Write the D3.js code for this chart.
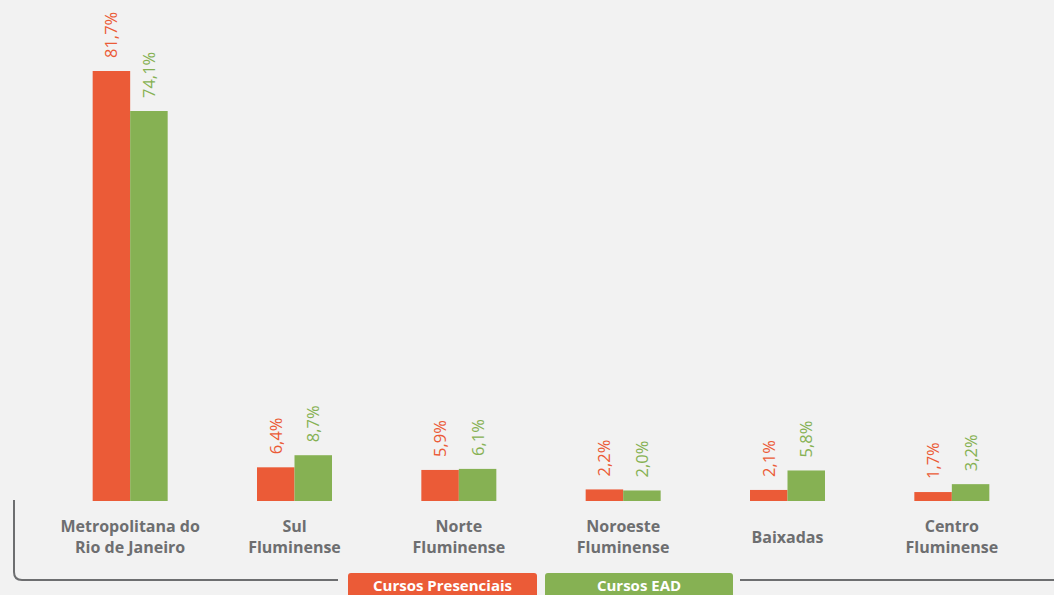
<!DOCTYPE html>
<html><head><meta charset="utf-8">
<script src="https://cdn.jsdelivr.net/npm/d3@7"></script>
<style>
html,body{margin:0;padding:0;background:#f2f2f2;}
svg{display:block;}
</style></head>
<body><svg id="c" width="1054" height="595"></svg>
<script>
const categories = [["Metropolitana do","Rio de Janeiro"],["Sul","Fluminense"],["Norte","Fluminense"],["Noroeste","Fluminense"],["Baixadas"],["Centro","Fluminense"]];
const seriesNames = ["Cursos Presenciais","Cursos EAD"];
const presenciais = [81.7, 6.4, 5.9, 2.2, 2.1, 1.7];
const ead = [74.1, 8.7, 6.1, 2.0, 5.8, 3.2];
const colors = ["#eb5b37","#86b153"];
const gray = "#6d6e70";
const font = "'Open Sans', sans-serif";

const svg = d3.select("#c");
const catKeys = categories.map(c=>c.join(" "));
const x0 = d3.scaleBand().domain(catKeys).range([48,1034]).padding(0);
const bw = 37.5;
const x1 = d3.scaleBand().domain(seriesNames).range([x0.bandwidth()/2-bw, x0.bandwidth()/2+bw]).padding(0);
const y = d3.scaleLinear().domain([0,81.7]).range([501,71]);

const fmt = v => d3.format(".1f")(v).replace(".",",")+"%";

const groups = svg.selectAll("g.grp").data(catKeys).join("g")
  .attr("transform", d=>`translate(${x0(d)},0)`);

groups.each(function(k,i){
  const g = d3.select(this);
  const vals = [presenciais[i], ead[i]];
  seriesNames.forEach((s,j)=>{
    g.append("rect").attr("x",x1(s)).attr("width",x1.bandwidth())
      .attr("y",y(vals[j])).attr("height",y(0)-y(vals[j])).attr("fill",colors[j]);
    const cx = x1(s)+x1.bandwidth()/2+6;
    g.append("text").attr("transform",`translate(${cx},${y(vals[j])-13}) rotate(-90)`)
      .attr("fill",colors[j]).attr("font-family",font).attr("font-size",16.5)
      .attr("text-anchor","start").text(fmt(vals[j]));
  });
  const lines = categories[i];
  const t = g.append("text").attr("text-anchor","middle").attr("font-family",font)
    .attr("font-weight","bold").attr("font-size",16).attr("fill",gray);
  const startY = lines.length===1 ? 543 : 532;
  lines.forEach((l,k2)=>{
    t.append("tspan").attr("x",x0.bandwidth()/2).attr("y",startY+k2*21).text(l);
  });
});

// frame
svg.append("path").attr("d","M14,500 L14,572 Q14,580 22,580 L338,580").attr("fill","none").attr("stroke",gray).attr("stroke-width",2);
svg.append("path").attr("d","M740,580 L1054,580").attr("fill","none").attr("stroke",gray).attr("stroke-width",2);

// legend
const legX = [348,545], legW = [189,188];
seriesNames.forEach((s,j)=>{
  const x = legX[j], w = legW[j], top=573, r=3;
  svg.append("path").attr("d",`M${x},600 L${x},${top+r} Q${x},${top} ${x+r},${top} L${x+w-r},${top} Q${x+w},${top} ${x+w},${top+r} L${x+w},600 Z`).attr("fill",colors[j]);
  svg.append("text").attr("x",x+w/2).attr("y",591).attr("text-anchor","middle")
    .attr("font-family",font).attr("font-weight","bold").attr("font-size",15).attr("fill","#fff").text(s);
});
</script></body></html>
